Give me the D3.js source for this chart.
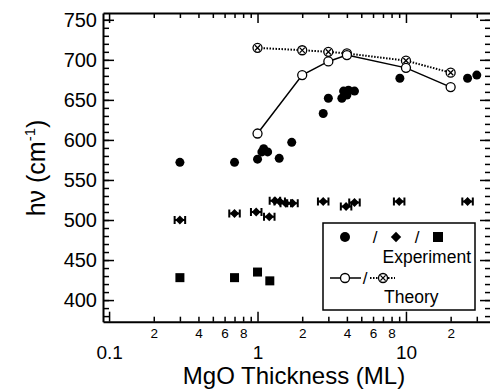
<!DOCTYPE html>
<html>
<head>
<meta charset="utf-8">
<script src="https://cdn.jsdelivr.net/npm/d3@7"></script>
<style>
  body { margin: 0; background: #fff; }
  svg { font-family: "Liberation Sans", Arial, Helvetica, sans-serif; }
  .axis path, .axis line { stroke: #000; }
</style>
</head>
<body>
<svg id="chart" width="490" height="391"></svg>
<script>
// experiment: filled circles
var circleX = [0.3, 0.7, 1.0, 1.07, 1.1, 1.17, 1.4, 1.7, 2.77, 3.0, 3.7, 3.8, 4.0, 4.1, 4.5, 9.1, 26, 30];
var circleY = [572, 572, 576, 585, 589, 585, 577, 597, 633, 652, 652, 661, 656, 662, 661, 677, 677, 681];
// experiment: diamonds with x error bars
var diamondX = [0.3, 0.7, 0.98, 1.2, 1.31, 1.41, 1.55, 1.72, 2.77, 3.95, 4.5, 9.0, 26];
var diamondY = [500, 508, 510, 504, 524, 523, 521, 521, 523, 517, 522, 523, 523];
// experiment: squares
var squareX = [0.3, 0.7, 1.0, 1.21];
var squareY = [428, 428, 435, 424];
// theory
var theoryX = [1, 2, 3, 4, 10, 20];
var theorySolid = [608, 681, 698, 706, 690, 666];
var theoryDotted = [715, 712, 710, 708, 699, 684];

var xMajor = [0.1, 1, 10];
var xMinor = [0.2, 0.3, 0.4, 0.5, 0.6, 0.7, 0.8, 0.9, 2, 3, 4, 5, 6, 7, 8, 9, 20, 30];
var xMinorLabels = {0.2: "2", 0.4: "4", 0.6: "6", 0.8: "8", 2: "2", 4: "4", 6: "6", 8: "8", 20: "2"};
var yMajor = [400, 450, 500, 550, 600, 650, 700, 750];
var yMinor = d3.range(380, 760, 10);

var errFactor = 1.085;

var margin = {top: 13, right: -1, bottom: 69.3, left: 103};
var W = 490, H = 391;
var width = W - margin.left - margin.right,
    height = H - margin.top - margin.bottom;

var svg = d3.select("#chart");
var g = svg.append("g").attr("transform", "translate(" + margin.left + "," + margin.top + ")");

var x = d3.scaleLog().domain([0.091, 37.4]).range([0, width]);
var y = d3.scaleLinear().domain([373, 758.5]).range([height, 0]);

// axes, ticks pointing inward
function styleAxis(sel, showDomain) {
  sel.selectAll("line").attr("stroke-width", 1.5);
  if (showDomain) sel.select(".domain").attr("stroke-width", 2);
  else sel.select(".domain").remove();
}

g.append("g").attr("class", "axis")
  .attr("transform", "translate(0," + height + ")")
  .call(d3.axisBottom(x).tickValues(xMinor).tickSizeInner(-5).tickSizeOuter(0).tickPadding(7)
    .tickFormat(function(d) { return xMinorLabels[d] || ""; }))
  .call(function(s) { styleAxis(s, false); s.selectAll("text").attr("font-size", 13.5).attr("font-family", null); });

g.append("g").attr("class", "axis")
  .attr("transform", "translate(0," + height + ")")
  .call(d3.axisBottom(x).tickValues(xMajor).tickSizeInner(-10).tickSizeOuter(0).tickPadding(24)
    .tickFormat(function(d) { return String(d); }))
  .call(function(s) { styleAxis(s, true); s.selectAll("text").attr("font-size", 19).attr("font-family", null); });

g.append("g").attr("class", "axis")
  .call(d3.axisTop(x).tickValues(xMinor).tickSizeInner(-5).tickSizeOuter(0).tickFormat(""))
  .call(function(s) { styleAxis(s, false); });

g.append("g").attr("class", "axis")
  .call(d3.axisTop(x).tickValues(xMajor).tickSizeInner(-10).tickSizeOuter(0).tickFormat(""))
  .call(function(s) { styleAxis(s, true); });

g.append("g").attr("class", "axis")
  .call(d3.axisLeft(y).tickValues(yMinor).tickSizeInner(-6).tickSizeOuter(0).tickFormat(""))
  .call(function(s) { styleAxis(s, false); });

g.append("g").attr("class", "axis")
  .call(d3.axisLeft(y).tickValues(yMajor).tickSizeInner(-11).tickSizeOuter(0).tickPadding(6))
  .call(function(s) { styleAxis(s, true); s.selectAll("text").attr("font-size", 20).attr("font-family", null); });

g.append("g").attr("class", "axis")
  .attr("transform", "translate(" + width + ",0)")
  .call(d3.axisRight(y).tickValues(yMinor).tickSizeInner(-6).tickSizeOuter(0).tickFormat(""))
  .call(function(s) { styleAxis(s, false); });

g.append("g").attr("class", "axis")
  .attr("transform", "translate(" + width + ",0)")
  .call(d3.axisRight(y).tickValues(yMajor).tickSizeInner(-11).tickSizeOuter(0).tickFormat(""))
  .call(function(s) { styleAxis(s, true); });

// axis titles
svg.append("text")
  .attr("x", 294).attr("y", 384)
  .attr("text-anchor", "middle")
  .attr("font-size", 24)
  .text("MgO Thickness (ML)");

var ylab = svg.append("text")
  .attr("transform", "translate(45,168) rotate(-90)")
  .attr("text-anchor", "middle")
  .attr("font-size", 25);
ylab.append("tspan").text("hν (cm");
ylab.append("tspan").attr("dy", -10).attr("font-size", 15).text("-1");
ylab.append("tspan").attr("dy", 10).text(")");

// theory lines
var line = d3.line().x(function(d) { return x(d[0]); }).y(function(d) { return y(d[1]); });

var dotted = theoryX.map(function(v, i) { return [v, theoryDotted[i]]; });
var solid = theoryX.map(function(v, i) { return [v, theorySolid[i]]; });

g.append("path").datum(dotted)
  .attr("d", line).attr("fill", "none").attr("stroke", "#000")
  .attr("stroke-width", 2).attr("stroke-dasharray", "1.5,1.5");

g.append("path").datum(solid)
  .attr("d", line).attr("fill", "none").attr("stroke", "#000")
  .attr("stroke-width", 1.5);

var r = 4.5;

function crossedCircle(sel) {
  sel.append("circle").attr("r", r).attr("fill", "#fff").attr("stroke", "#000").attr("stroke-width", 1.3);
  sel.append("path").attr("d", "M-2.6,-2.6L2.6,2.6M-2.6,2.6L2.6,-2.6").attr("stroke", "#000").attr("stroke-width", 1.3);
}

g.selectAll(".tdot").data(dotted).enter().append("g")
  .attr("transform", function(d) { return "translate(" + x(d[0]) + "," + y(d[1]) + ")"; })
  .call(crossedCircle);

g.selectAll(".tsolid").data(solid).enter().append("circle")
  .attr("cx", function(d) { return x(d[0]); })
  .attr("cy", function(d) { return y(d[1]); })
  .attr("r", r).attr("fill", "#fff").attr("stroke", "#000").attr("stroke-width", 1.3);

// experiment markers
g.selectAll(".circ").data(circleX).enter().append("circle")
  .attr("cx", function(d) { return x(d); })
  .attr("cy", function(d, i) { return y(circleY[i]); })
  .attr("r", r).attr("fill", "#000");

var diamondPath = "M0,-4.5L4.5,0L0,4.5L-4.5,0Z";
var dia = g.selectAll(".dia").data(diamondX).enter().append("g")
  .attr("transform", function(d, i) { return "translate(0," + y(diamondY[i]) + ")"; });
dia.append("path")
  .attr("d", function(d) {
    var a = x(d / errFactor), b = x(d * errFactor);
    return "M" + a + ",0H" + b + "M" + a + ",-4V4M" + b + ",-4V4";
  })
  .attr("stroke", "#000").attr("stroke-width", 2).attr("fill", "none");
dia.append("path")
  .attr("transform", function(d) { return "translate(" + x(d) + ",0)"; })
  .attr("d", diamondPath).attr("fill", "#000");

g.selectAll(".sq").data(squareX).enter().append("rect")
  .attr("x", function(d) { return x(d) - 4.5; })
  .attr("y", function(d, i) { return y(squareY[i]) - 4.5; })
  .attr("width", 9).attr("height", 9).attr("fill", "#000");

// legend
var lg = svg.append("g");
lg.append("rect").attr("x", 323).attr("y", 223).attr("width", 152).attr("height", 87)
  .attr("fill", "#fff").attr("stroke", "#000").attr("stroke-width", 1.5);
lg.append("circle").attr("cx", 345).attr("cy", 237).attr("r", 5).attr("fill", "#000");
lg.append("text").attr("x", 375).attr("y", 243).attr("text-anchor", "middle").attr("font-size", 17).text("/");
lg.append("path").attr("transform", "translate(396,237) scale(1.15)").attr("d", diamondPath).attr("fill", "#000");
lg.append("text").attr("x", 417).attr("y", 243).attr("text-anchor", "middle").attr("font-size", 17).text("/");
lg.append("rect").attr("x", 433).attr("y", 232).attr("width", 10).attr("height", 10).attr("fill", "#000");
lg.append("text").attr("x", 471).attr("y", 263).attr("text-anchor", "end").attr("font-size", 17.5).text("Experiment");

lg.append("line").attr("x1", 330).attr("x2", 361).attr("y1", 278).attr("y2", 278)
  .attr("stroke", "#000").attr("stroke-width", 1.5);
lg.append("circle").attr("cx", 345).attr("cy", 278).attr("r", r)
  .attr("fill", "#fff").attr("stroke", "#000").attr("stroke-width", 1.3);
lg.append("text").attr("x", 365).attr("y", 284).attr("text-anchor", "middle").attr("font-size", 17).text("/");
lg.append("line").attr("x1", 370).attr("x2", 395).attr("y1", 278).attr("y2", 278)
  .attr("stroke", "#000").attr("stroke-width", 2).attr("stroke-dasharray", "1.5,1.5");
lg.append("g").attr("transform", "translate(383,278)").call(crossedCircle);
lg.append("text").attr("x", 384).attr("y", 303).attr("font-size", 17.5).text("Theory");
</script>
</body>
</html>
